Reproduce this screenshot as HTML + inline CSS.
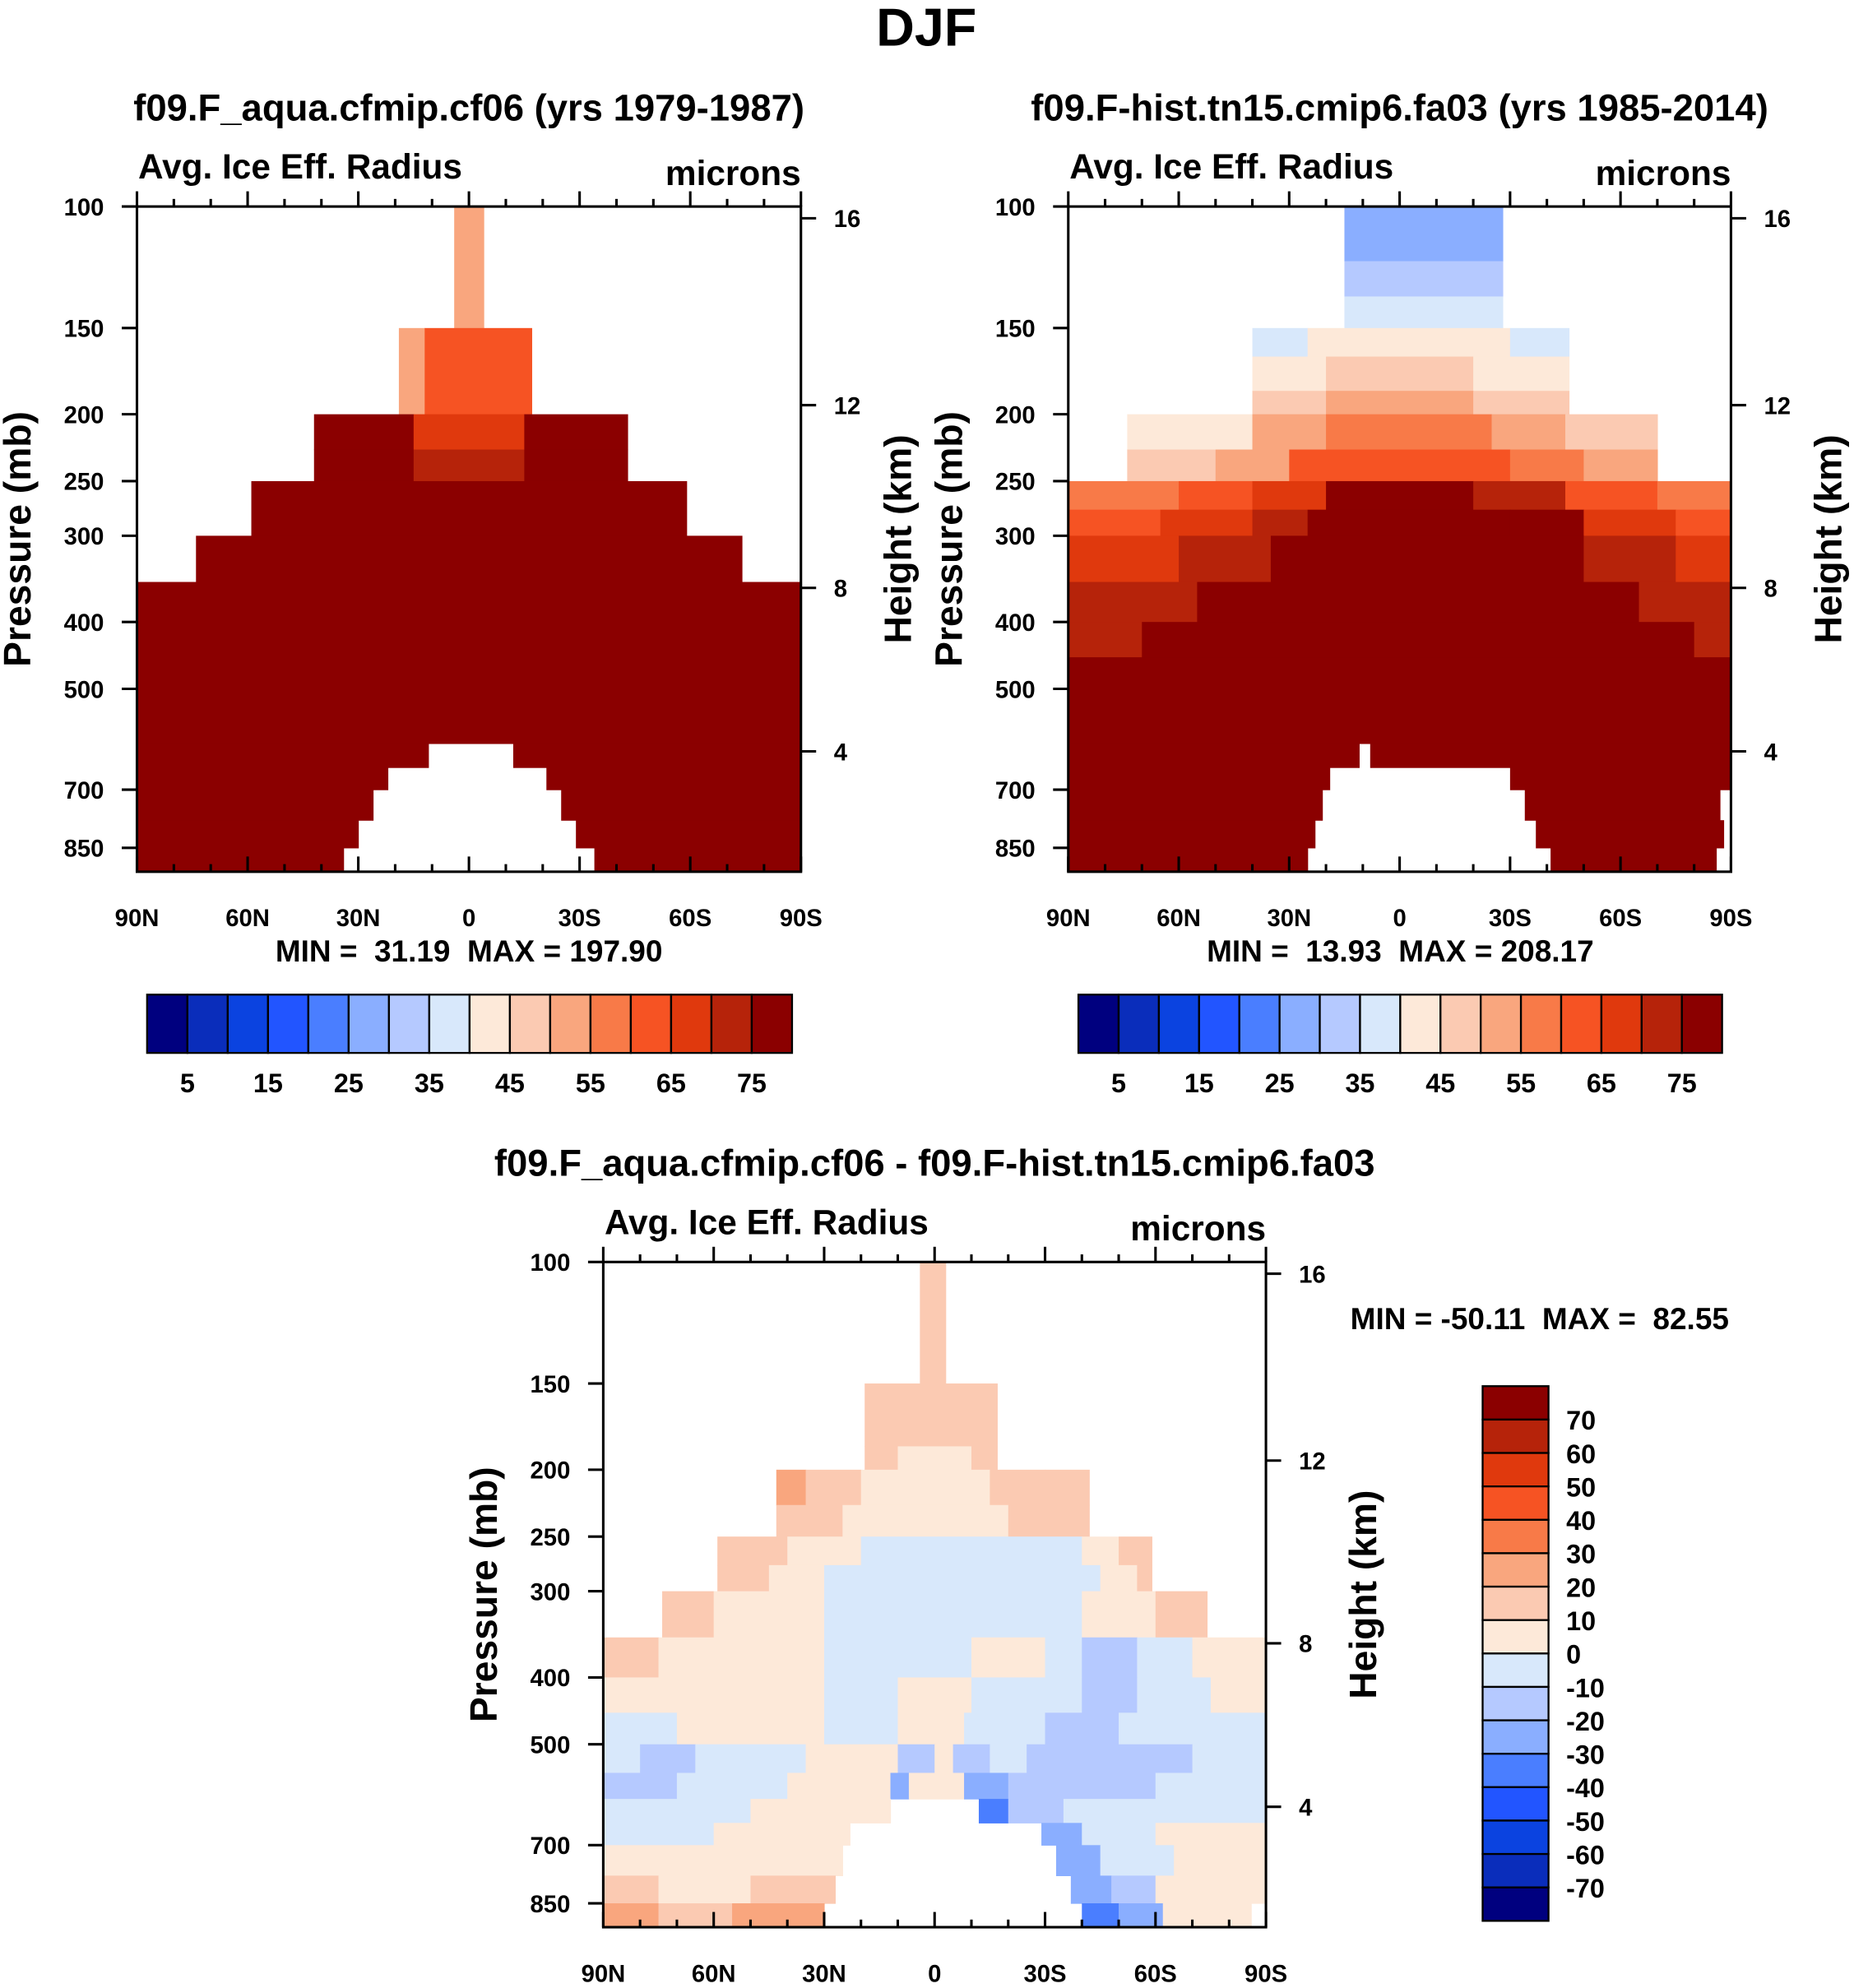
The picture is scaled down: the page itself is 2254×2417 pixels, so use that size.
<!DOCTYPE html>
<html><head><meta charset="utf-8"><style>
html,body{margin:0;padding:0;background:#fff;}
svg{display:block;font-family:"Liberation Sans",sans-serif;font-weight:bold;}
text{white-space:pre;}
</style></head><body>
<svg id="chart" xmlns="http://www.w3.org/2000/svg" width="2254" height="2417" viewBox="0 0 1463 1569">
<rect width="1463" height="1569" fill="#fff"/>
<text x="731" y="36" font-size="42" text-anchor="middle">DJF</text>
<g id="layer"></g>
</svg>
<script>
// ---------- data ----------
const palette = ["#00007f","#0a2dbb","#0b43e0","#2255ff","#4a7eff","#8aaeff","#b5c9ff","#d8e8fb","#fde9d9","#fbcab2","#f9a67e","#f87a48","#f65323","#e0390d","#b6230a","#8b0000"];
const absLevels = [5,10,15,20,25,30,35,40,45,50,55,60,65,70,75];
const diffLevels = [-70,-60,-50,-40,-30,-20,-10,0,10,20,30,40,50,60,70];
const latTicks = [90,60,30,0,-30,-60,-90];
const latTickLabels = ["90N","60N","30N","0","30S","60S","90S"];
const pTicks = [100,150,200,250,300,400,500,700,850];
const hTicks = [16,12,8,4];
const hTickPressures = [104,194,357,616];
const absBarLabels = [5,15,25,35,45,55,65,75];
const diffBarLabels = [70,60,50,40,30,20,10,0,-10,-20,-30,-40,-50,-60,-70];

// rows: [pTop, pBottom, [[latStart, latEnd, value], ...]]
const panel1Rows = [
 [100,150,[[4,-4,50]]],
 [150,200,[[19,12,52],[12,-17,62]]],
 [200,225,[[42,15,80],[15,-15,66],[-15,-43,80]]],
 [225,250,[[42,15,80],[15,-15,72],[-15,-43,80]]],
 [250,300,[[59,-59,80]]],
 [300,350,[[74,-74,80]]],
 [350,600,[[90,-90,80]]],
 [600,650,[[90,11,80],[-12,-90,80]]],
 [650,700,[[90,22,80],[-21,-90,80]]],
 [700,775,[[90,26,80],[-25,-90,80]]],
 [775,850,[[90,30,80],[-29,-90,80]]],
 [850,925,[[90,34,80],[-34,-90,80]]]
];
const panel2Rows = [
 [100,120,[[15,-28,27]]],
 [120,135,[[15,-28,32]]],
 [135,150,[[15,-28,37]]],
 [150,165,[[40,25,37],[25,-30,42],[-30,-46,37]]],
 [165,185,[[40,20,42],[20,-20,47],[-20,-46,42]]],
 [185,200,[[40,20,47],[20,-20,52],[-20,-46,47]]],
 [200,225,[[74,40,42],[40,20,52],[20,-25,57],[-25,-45,52],[-45,-70,47]]],
 [225,250,[[74,50,47],[50,30,52],[30,-30,62],[-30,-50,57],[-50,-70,52]]],
 [250,275,[[90,60,57],[60,40,62],[40,20,67],[20,-20,80],[-20,-45,72],[-45,-70,62],[-70,-90,57]]],
 [275,300,[[90,65,62],[65,40,67],[40,25,72],[25,-30,80],[-30,-50,77],[-50,-75,67],[-75,-90,62]]],
 [300,350,[[90,60,67],[60,35,72],[35,-50,80],[-50,-75,72],[-75,-90,67]]],
 [350,400,[[90,55,72],[55,-65,80],[-65,-90,72]]],
 [400,450,[[90,70,72],[70,-80,80],[-80,-90,72]]],
 [450,600,[[90,-90,80]]],
 [600,650,[[90,11,80],[8,-90,80]]],
 [650,700,[[90,19,80],[-30,-90,80]]],
 [700,775,[[90,21,80],[-34,-87,80]]],
 [775,850,[[90,23,80],[-37,-88,80]]],
 [850,925,[[90,25,80],[-41,-86,80]]]
];
const panel3Rows = [
 [100,150,[[4,-3,15]]],
 [150,185,[[19,-17,15]]],
 [185,200,[[19,10,15],[10,-10,5],[-10,-17,15]]],
 [200,225,[[43,35,25],[35,20,15],[20,-15,5],[-15,-30,15],[-30,-42,15]]],
 [225,250,[[43,25,15],[25,-20,5],[-20,-42,15]]],
 [250,275,[[59,40,15],[40,20,5],[20,-40,-5],[-40,-50,5],[-50,-59,15]]],
 [275,300,[[59,45,15],[45,30,5],[30,-45,-5],[-45,-55,5],[-55,-59,15]]],
 [300,350,[[74,60,15],[60,30,5],[30,-40,-5],[-40,-60,5],[-60,-74,15]]],
 [350,400,[[90,75,15],[75,30,5],[30,-10,-5],[-10,-30,5],[-30,-40,-5],[-40,-55,-15],[-55,-70,-5],[-70,-90,5]]],
 [400,450,[[90,30,5],[30,10,-5],[10,-10,5],[-10,-40,-5],[-40,-55,-15],[-55,-75,-5],[-75,-90,5]]],
 [450,500,[[90,70,-5],[70,30,5],[30,10,-5],[10,-8,5],[-8,-30,-5],[-30,-50,-15],[-50,-90,-5]]],
 [500,550,[[90,80,-5],[80,65,-15],[65,35,-5],[35,10,5],[10,0,-15],[0,-5,5],[-5,-15,-15],[-15,-25,-5],[-25,-70,-15],[-70,-90,-5]]],
 [550,600,[[90,70,-15],[70,40,-5],[40,12,5],[12,7,-25],[7,-8,5],[-8,-20,-25],[-20,-60,-15],[-60,-90,-5]]],
 [600,650,[[90,50,-5],[50,12,5],[-12,-20,-35],[-20,-35,-15],[-35,-90,-5]]],
 [650,700,[[90,60,-5],[60,23,5],[-29,-40,-25],[-40,-60,-5],[-60,-90,5]]],
 [700,775,[[90,60,5],[60,25,5],[-33,-45,-25],[-45,-65,-5],[-65,-90,5]]],
 [775,850,[[90,75,15],[75,50,5],[50,27,15],[-37,-48,-25],[-48,-60,-15],[-60,-90,5]]],
 [850,925,[[90,75,25],[75,55,15],[55,30,25],[-40,-50,-35],[-50,-62,-25],[-62,-86,5]]]
];

// ---------- drawing ----------
const NS = "http://www.w3.org/2000/svg";
const layer = document.getElementById("layer");
function mk(tag, attrs, parent){
  const e = document.createElementNS(NS, tag);
  for (const k in attrs) e.setAttribute(k, attrs[k]);
  (parent||layer).appendChild(e);
  return e;
}
function colorIdx(v, levels){ let i=0; while(i<levels.length && v>=levels[i]) i++; return i; }

function drawPanel(cfg){
  const {x0,x1,y0,rows,levels,name,title,titleY,minmax,minmaxX,minmaxY} = cfg;
  const k = 544.6, yB = y0+525;
  const xs = lat => x0 + (90-lat)/180*(x1-x0);
  const ys = p => Math.min(yB, y0 + k*Math.log10(p/100));
  const g = mk("g",{});
  
  
  rows.forEach(r=>{
    r[2].forEach(s=>{
      const xa = xs(s[0]), xb = xs(s[1]);
      const c = mk("rect",{x:xa,y:ys(r[0]),width:xb-xa+0.4,height:ys(r[1])-ys(r[0])+0.4,fill:palette[colorIdx(s[2],levels)]},g);
      
      
    });
  });
  const fr = mk("rect",{x:x0,y:y0,width:x1-x0,height:yB-y0,fill:"none",stroke:"#000","stroke-width":2},g);
  
  
  for(let lat=90; lat>=-90; lat-=10){
    const maj = lat%30===0; const L = maj?12:6;
    mk("line",{x1:xs(lat),x2:xs(lat),y1:y0,y2:y0-L,stroke:"#000","stroke-width":2},g);
    mk("line",{x1:xs(lat),x2:xs(lat),y1:yB,y2:yB-L,stroke:"#000","stroke-width":2},g);
  }
  latTicks.forEach((lat,i)=>{
    const t = mk("text",{x:xs(lat),y:yB+43,"font-size":19,"text-anchor":"middle"},g);
    t.textContent = latTickLabels[i];
    
    
  });
  pTicks.forEach(p=>{
    mk("line",{x1:x0,x2:x0-12,y1:ys(p),y2:ys(p),stroke:"#000","stroke-width":2},g);
    const t = mk("text",{x:x0-26,y:ys(p)+7,"font-size":19,"text-anchor":"end"},g);
    t.textContent = p;
    
    
  });
  hTicks.forEach((h,i)=>{
    const y = ys(hTickPressures[i]);
    mk("line",{x1:x1,x2:x1+12,y1:y,y2:y,stroke:"#000","stroke-width":2},g);
    const t = mk("text",{x:x1+26,y:y+7,"font-size":19},g);
    t.textContent = h;
    
    
  });
  const cy = (y0+yB)/2;
  let t = mk("text",{x:0,y:0,"font-size":30,"text-anchor":"middle",transform:`translate(${x0-84},${cy}) rotate(-90)`},g);
  t.textContent = "Pressure (mb)";
  
  
  t = mk("text",{x:0,y:0,"font-size":30,"text-anchor":"middle",transform:`translate(${x1+87},${cy}) rotate(-90)`},g);
  t.textContent = "Height (km)";
  
  
  t = mk("text",{x:x0+1,y:y0-22,"font-size":27.5},g);
  t.textContent = "Avg. Ice Eff. Radius";
  
  
  t = mk("text",{x:x1,y:y0-17,"font-size":27.5,"text-anchor":"end"},g);
  t.textContent = "microns";
  
  
  t = mk("text",{x:(x0+x1)/2,y:titleY,"font-size":29.5,"text-anchor":"middle"},g);
  t.textContent = title;
  
  
  t = mk("text",{x:minmaxX,y:minmaxY,"font-size":24,"text-anchor":"middle"},g);
  t.textContent = minmax;
  
  
}

function hBar(x0,x1,y0,y1,name){
  const g = mk("g",{});
  
  
  const w = (x1-x0)/palette.length;
  palette.forEach((c,i)=>{
    const r = mk("rect",{x:x0+i*w,y:y0,width:w,height:y1-y0,fill:c,stroke:"#000","stroke-width":1.5},g);
    
    
  });
  absBarLabels.forEach(v=>{
    const i = absLevels.indexOf(v)+1;
    const t = mk("text",{x:x0+i*w,y:y1+31,"font-size":21,"text-anchor":"middle"},g);
    t.textContent = v;
    
    
  });
}

drawPanel({x0:108,x1:632,y0:163,rows:panel1Rows,levels:absLevels,name:"cf06",title:"f09.F_aqua.cfmip.cf06 (yrs 1979-1987)",titleY:95,minmax:"MIN =  31.19  MAX = 197.90",minmaxX:370,minmaxY:759});
drawPanel({x0:843,x1:1366,y0:163,rows:panel2Rows,levels:absLevels,name:"fa03",title:"f09.F-hist.tn15.cmip6.fa03 (yrs 1985-2014)",titleY:95,minmax:"MIN =  13.93  MAX = 208.17",minmaxX:1105,minmaxY:759});
drawPanel({x0:476,x1:999,y0:996,rows:panel3Rows,levels:diffLevels,name:"difference",title:"f09.F_aqua.cfmip.cf06 - f09.F-hist.tn15.cmip6.fa03",titleY:928,minmax:"MIN = -50.11  MAX =  82.55",minmaxX:1215,minmaxY:1049});
hBar(116,625,785,831,"colorbar-cf06");
hBar(851,1359,785,831,"colorbar-fa03");

(function(){
  const g = mk("g",{});
  
  
  const x0=1170,x1=1222,y0=1094,y1=1516,h=(y1-y0)/palette.length;
  palette.slice().reverse().forEach((c,i)=>{
    const r = mk("rect",{x:x0,y:y0+i*h,width:x1-x0,height:h,fill:c,stroke:"#000","stroke-width":1.5},g);
    
    
  });
  diffBarLabels.forEach((v,i)=>{
    const t = mk("text",{x:1236,y:y0+(i+1)*h+8,"font-size":21},g);
    t.textContent = v;
    
    
  });
})();
</script>
</body></html>
